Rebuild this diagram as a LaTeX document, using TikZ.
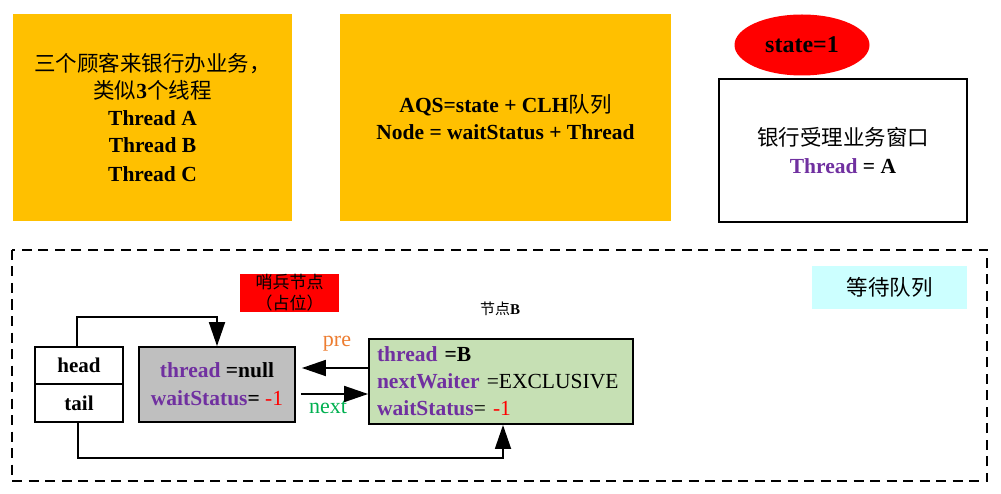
\documentclass[tikz,border=0pt]{standalone}
\usepackage{fontspec}
\setmainfont{Liberation Serif}
\newfontfamily\cjk{Noto Sans CJK SC}
\usetikzlibrary{shapes.geometric,arrows.meta,calc}
\definecolor{ybg}{HTML}{FFC000}
\definecolor{purp}{HTML}{7030A0}
\definecolor{gfill}{HTML}{C6E0B4}
\definecolor{grfill}{HTML}{BFBFBF}
\definecolor{cyanbg}{HTML}{CCFFFF}
\definecolor{preor}{HTML}{ED7D31}
\definecolor{nextgr}{HTML}{00B050}
\definecolor{redc}{HTML}{FF0000}
\tikzset{
  ybox/.style={fill=ybg, draw=none, minimum width=279pt, minimum height=207pt, inner sep=0pt, align=center, font=\fontsize{21.5}{27}\selectfont},
  blkbox/.style={draw=black, line width=1.8pt, inner sep=0pt, align=center},
  arr/.style={line width=1.8pt, -{Triangle[length=24pt,width=16pt]}},
}
\newcommand{\pt}[1]{\textcolor{purp}{\textbf{#1}}}
\begin{document}
\begin{tikzpicture}[x=1pt,y=-1pt]
\useasboundingbox (0,0) rectangle (1001,494);
% top boxes
\node[ybox] (b1) at (152.5,117.5) {{\cjk 三个顾客来银行办业务，}\\{\cjk 类似}\textbf{3}{\cjk 个线程}\\\textbf{Thread A}\\\textbf{Thread B}\\[2pt]\textbf{Thread C}};
\node[ybox, minimum width=331pt] (b2) at (505.5,117.5) {\textbf{AQS=state + CLH}{\cjk 队列}\\\textbf{Node = waitStatus + Thread}};
\node[ellipse, fill=redc, draw=none, minimum width=135pt, minimum height=61pt, inner sep=0pt, font=\fontsize{24}{28}\selectfont\bfseries] (st) at (802,45) {state=1};
\node[blkbox, minimum width=248pt, minimum height=143pt, font=\fontsize{21.5}{28}\selectfont] (win) at (843,150.5) {{\cjk 银行受理业务窗口}\\\pt{Thread} \textbf{= A}};
% waiting queue
\draw[dashed, dash pattern=on 10pt off 6.5pt, line width=1.3pt] (12,250) rectangle (987,481);
\node[fill=cyanbg, minimum width=155pt, minimum height=43pt, inner sep=0pt, font=\fontsize{21.5}{26}\selectfont\cjk] (ql) at (889.5,287.5) {等待队列};
\node[fill=redc, minimum width=99pt, minimum height=38pt, inner sep=0pt, align=center, font=\fontsize{17}{21}\selectfont\cjk] (sent) at (289.5,293) {哨兵节点\\（占位）};
\node[font=\fontsize{15}{18}\selectfont] (nb) at (500,309) {{\cjk 节点}\textbf{B}};
\node[blkbox, minimum width=88pt, minimum height=37pt, fill=white, font=\fontsize{21}{26}\selectfont\bfseries] (head) at (79,365.5) {head};
\node[blkbox, minimum width=88pt, minimum height=38pt, fill=white, font=\fontsize{21}{26}\selectfont\bfseries] (tail) at (79,403) {tail};
\node[blkbox, minimum width=156pt, minimum height=75pt, fill=grfill, font=\fontsize{21.5}{28}\selectfont] (gray) at (217,384.5) {\pt{thread} \textbf{=null}\\\pt{waitStatus}\textbf{=} \textcolor{redc}{-1}};
\node[blkbox, minimum width=264pt, minimum height=75pt, fill=gfill, text width=248pt, inner sep=8pt, align=left, font=\fontsize{21.5}{27}\selectfont] (green) at (501,381.5) {\pt{thread} \textbf{=B}\\\pt{nextWaiter} =EXCLUSIVE\\\pt{waitStatus}= \textcolor{redc}{-1}};
\node[text=preor, font=\fontsize{22}{26}\selectfont] (pre) at (337,344) {pre};
\node[text=nextgr, font=\fontsize{22}{26}\selectfont] (nxt) at (328,407) {next};
% connectors
\draw[arr] ([xshift=-2pt]head.north) -- ++(0,-29) -| (gray.north);
\draw[arr] ([xshift=-1pt]tail.south) -- ++(0,35) -| ([xshift=2pt]green.south);
\draw[arr] ([yshift=13.5pt]green.west) -- ([xshift=6pt,yshift=16.5pt]gray.east);
\draw[arr] ([xshift=5pt,yshift=-9.5pt]gray.east) -- ([yshift=-12.5pt]green.west);
\end{tikzpicture}
\end{document}
